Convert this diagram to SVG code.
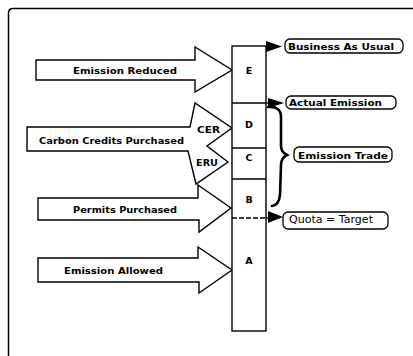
<svg xmlns="http://www.w3.org/2000/svg" width="413" height="356" viewBox="0 0 413 356">
<style>
.bg{fill:#fff}
.frame{fill:none;stroke:#000;stroke-width:1.5}
.arr{fill:#fff;stroke:#000;stroke-width:1.4;stroke-linejoin:miter}
.col{fill:#fff;stroke:#000;stroke-width:1.4}
.div{stroke:#000;stroke-width:1.3}
.lbl{fill:#fff;stroke:#000;stroke-width:1.3}
.t{font-family:"DejaVu Sans","Liberation Sans",sans-serif;font-weight:bold;font-size:9.5px;fill:#000}
.tr{font-family:"DejaVu Sans","Liberation Sans",sans-serif;font-size:10px;fill:#000}
.c{text-anchor:middle}
.brace{fill:none;stroke:#000;stroke-width:2.6;stroke-linecap:round}
</style>
<rect class="bg" x="0" y="0" width="413" height="356"/>
<path class="frame" d="M8.5,356 L8.5,13 Q8.5,8.5 13,8.5 L413,8.5"/>

<g id="emission-reduced">
<path class="arr" d="M36,60 L195,60 L195,47 L232,70 L195,92 L195,80 L36,80 Z"/>
<text class="t" x="73" y="74" textLength="104" lengthAdjust="spacingAndGlyphs">Emission Reduced</text>
</g>
<g id="carbon-credits">
<path class="arr" d="M27,127 L190,127 L195,103 L232,128 L207,146 L228,162 L196,184 L188,151 L27,151 Z"/>
<text class="t" x="39" y="144" textLength="145" lengthAdjust="spacingAndGlyphs">Carbon Credits Purchased</text>
<text class="t" x="197" y="133" textLength="23" lengthAdjust="spacingAndGlyphs">CER</text>
<text class="t" x="196" y="166" textLength="22" lengthAdjust="spacingAndGlyphs">ERU</text>
</g>
<g id="permits-purchased">
<path class="arr" d="M38,198 L198,198 L198,185 L231,208 L199,232 L199,220 L38,220 Z"/>
<text class="t" x="73" y="213" textLength="104" lengthAdjust="spacingAndGlyphs">Permits Purchased</text>
</g>
<g id="emission-allowed">
<path class="arr" d="M38,258 L198,258 L198,247 L232,270 L199,293 L199,282 L38,282 Z"/>
<text class="t" x="64" y="274" textLength="99" lengthAdjust="spacingAndGlyphs">Emission Allowed</text>
</g>

<g id="column">
<rect class="col" x="232" y="46" width="34" height="285"/>
<line class="div" x1="232" y1="103" x2="266" y2="103"/>
<line class="div" x1="232" y1="148" x2="266" y2="148"/>
<line class="div" x1="232" y1="179" x2="266" y2="179"/>
<line class="div" x1="232" y1="218" x2="266" y2="218" stroke-dasharray="5,2"/>
<text class="t c" x="249" y="74" font-size="8.5">E</text>
<text class="t c" x="249" y="128" font-size="8.5">D</text>
<text class="t c" x="249" y="161" font-size="8.5">C</text>
<text class="t c" x="249" y="203" font-size="8.5">B</text>
<text class="t c" x="249" y="264" font-size="8.5">A</text>
</g>

<g id="connectors">
<path d="M266,41 L282,46.5 L266,52 Z" fill="#000"/>
<line class="div" x1="266" y1="103" x2="270" y2="103"/>
<path d="M268,98 L284,103 L268,108 Z" fill="#000"/>
<line class="div" x1="266" y1="218" x2="270" y2="218"/>
<path d="M268,211 L283,217 L268,223 Z" fill="#000"/>
<path class="brace" d="M268,107 Q281,106 281,117 L281,146 Q281,152 287,155 Q281,158 281,165 L280,195 Q279,205 272,206"/>
</g>

<g id="business-as-usual">
<rect class="lbl" x="285" y="39" width="118" height="14" rx="5"/>
<text class="t" x="288" y="50" textLength="106" lengthAdjust="spacingAndGlyphs">Business As Usual</text>
</g>
<g id="actual-emission">
<rect class="lbl" x="286" y="96" width="110" height="13" rx="5"/>
<text class="t" x="289" y="106" textLength="93" lengthAdjust="spacingAndGlyphs">Actual Emission</text>
</g>
<g id="emission-trade">
<rect class="lbl" x="294" y="147" width="98" height="15" rx="5"/>
<text class="t" x="298" y="159" textLength="90" lengthAdjust="spacingAndGlyphs">Emission Trade</text>
</g>
<g id="quota-target">
<rect class="lbl" x="283" y="212" width="105" height="17" rx="5"/>
<text class="tr" x="289" y="223" textLength="84" lengthAdjust="spacingAndGlyphs">Quota = Target</text>
</g>
</svg>
